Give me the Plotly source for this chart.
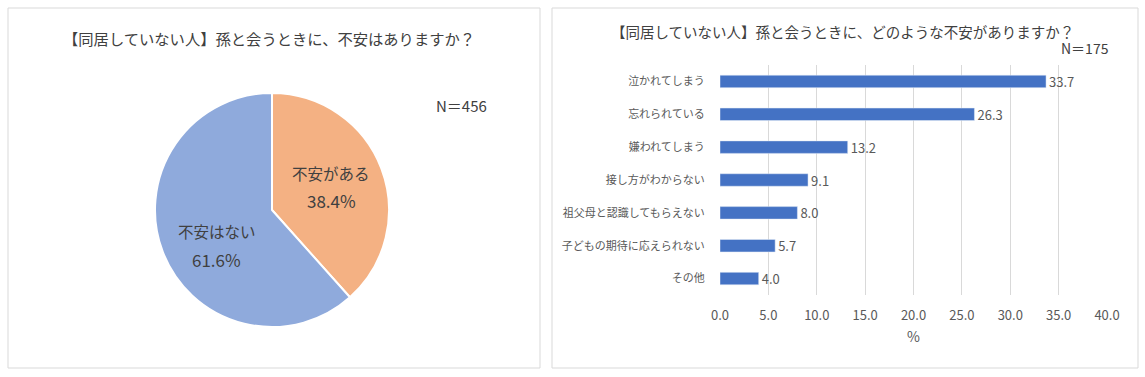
import math
import plotly.graph_objects as go

# ---- data ----
pie_labels = ["不安がある", "不安はない"]
pie_values = [38.4, 61.6]
pie_colors = ["#F4B183", "#8FAADC"]

bar_categories = ["泣かれてしまう", "忘れられている", "嫌われてしまう", "接し方がわからない",
                  "祖父母と認識してもらえない", "子どもの期待に応えられない", "その他"]
bar_values = [33.7, 26.3, 13.2, 9.1, 8.0, 5.7, 4.0]
x_ticks = [0, 5, 10, 15, 20, 25, 30, 35, 40]
x_ticklabels = ["0.0", "5.0", "10.0", "15.0", "20.0", "25.0", "30.0", "35.0", "40.0"]

title_left = "【同居していない人】孫と会うときに、不安はありますか？"
title_right = "【同居していない人】孫と会うときに、どのような不安がありますか？"
n_left = "N＝456"
n_right = "N＝175"

W, H = 1145, 377
FONT = "Noto Sans CJK JP"
TXT = "#595959"
DARK = "#404040"

# pie geometry (pixels)
PIE_CX, PIE_CY, PIE_R = 272, 210, 117
LABEL_RFRAC = 0.56
LABEL_NUDGE = [(-2, 0), (6, 12)]   # small best-fit style offsets (px)
LINE_GAP = 14


def px(x):
    return x / W


def py(y):
    return 1 - y / H


fig = go.Figure()

fig.add_trace(go.Pie(
    labels=pie_labels, values=pie_values,
    marker=dict(colors=pie_colors, line=dict(color="white", width=2)),
    sort=False, direction="clockwise", rotation=0,
    textinfo="none",
    domain=dict(x=[px(PIE_CX - PIE_R), px(PIE_CX + PIE_R)],
                y=[py(PIE_CY + PIE_R), py(PIE_CY - PIE_R)]),
    showlegend=False, hoverinfo="label+value",
))

fig.add_trace(go.Bar(
    x=bar_values, y=bar_categories, orientation="h",
    marker=dict(color="#4472C4"),
    text=[f"{v:.1f}" for v in bar_values], textposition="outside",
    constraintext="none",
    textfont=dict(family=FONT, size=13, color=TXT),
    cliponaxis=False, showlegend=False,
    xaxis="x", yaxis="y",
))


def ann(text, x, y, size, color=DARK):
    return dict(text=text, x=px(x), y=py(y), xref="paper", yref="paper",
                xanchor="center", yanchor="middle", showarrow=False,
                font=dict(size=size, color=color))


annotations = [
    ann(title_left, 269, 38, 15.3),
    ann(n_left, 461, 105, 15),
    ann(title_right, 842, 32, 14.5),
    ann(n_right, 1085, 48, 14),
]

# pie labels placed at each slice's mid-angle (computed from the data)
total = sum(pie_values)
cum = 0.0
for (lab, val), (nx, ny) in zip(zip(pie_labels, pie_values), LABEL_NUDGE):
    mid = (cum + val / 2) / total * 2 * math.pi
    cum += val
    cx = PIE_CX + LABEL_RFRAC * PIE_R * math.sin(mid) + nx
    cy = PIE_CY - LABEL_RFRAC * PIE_R * math.cos(mid) + ny
    annotations.append(ann(lab, cx, cy - LINE_GAP, 15.5))
    annotations.append(ann(f"{val:.1f}%", cx, cy + LINE_GAP, 17))

fig.update_layout(
    width=W, height=H,
    margin=dict(l=0, r=0, t=0, b=0, autoexpand=False),
    paper_bgcolor="white", plot_bgcolor="white",
    font=dict(family=FONT, color=TXT),
    bargap=0.62,
    xaxis=dict(domain=[px(720), px(1107)], range=[0, 40], tickvals=x_ticks,
               ticktext=x_ticklabels, showgrid=True, gridcolor="#D9D9D9",
               zeroline=False, showline=False, ticks="outside", ticklen=8,
               tickcolor="rgba(0,0,0,0)", tickfont=dict(size=13, color=TXT),
               title=dict(text="%", font=dict(size=14, color=TXT), standoff=9),
               automargin=False, fixedrange=True),
    yaxis=dict(domain=[py(295), py(65)], autorange="reversed",
               showgrid=False, zeroline=False, showline=False,
               ticks="outside", ticklen=12, tickcolor="rgba(0,0,0,0)",
               tickfont=dict(size=11, color=TXT), automargin=False, fixedrange=True),
    shapes=[
        dict(type="rect", xref="paper", yref="paper",
             x0=px(8), x1=px(540), y0=py(368), y1=py(8),
             line=dict(color="#D9D9D9", width=1)),
        dict(type="rect", xref="paper", yref="paper",
             x0=px(552), x1=px(1138), y0=py(368), y1=py(8),
             line=dict(color="#D9D9D9", width=1)),
    ],
    annotations=annotations,
)

fig.write_html("out.html", post_script="document.body.style.margin='0';",
               config={"displayModeBar": False})
